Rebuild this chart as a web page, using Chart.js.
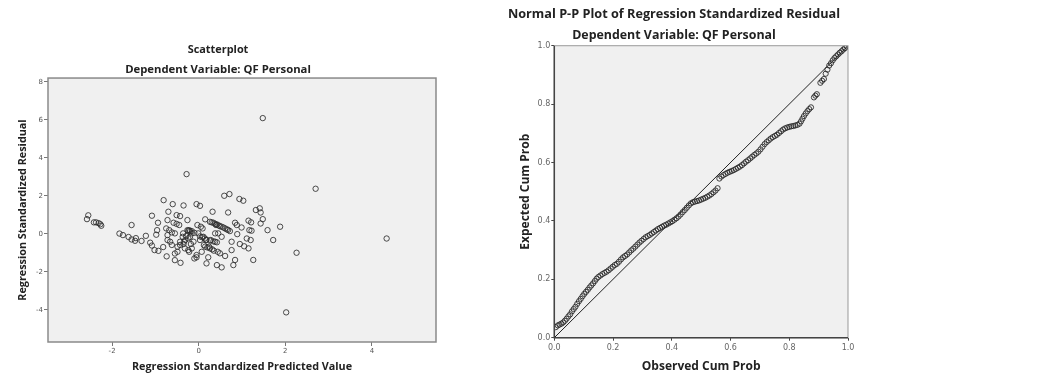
<!DOCTYPE html>
<html>
<head>
<meta charset="utf-8">
<script src="https://cdn.jsdelivr.net/npm/chart.js@4.4.1/dist/chart.umd.min.js"></script>
<style>
  body { margin: 0; background: #fff; width: 1042px; height: 375px; position: relative; overflow: hidden; }
  #leftBox { position: absolute; left: 0; top: 0; }
  #rightBox { position: absolute; left: 500px; top: 0; }
</style>
</head>
<body>
<div id="leftBox"><canvas id="scatterChart" width="448" height="375"></canvas></div>
<div id="rightBox"><canvas id="ppChart" width="360" height="375"></canvas></div>
<script>
// scatterplot: standardized predicted value (x) vs standardized residual (y)
const predicted = [
  1.48, -0.28, 2.70, 4.34, 2.26, 2.02,
  -2.55, -2.58, -2.42, -2.37, -2.31, -2.27, -2.25,
  -1.83, -1.75, -1.62, -1.55, -1.47, -1.45, -1.55, -1.32, -1.22, -1.12, -1.08, -1.08,
  -1.02, -0.93, -0.98, -0.96, -0.94, -0.82, -0.81, -0.74, -0.72, -0.72, -0.70, -0.68,
  -0.60, -0.58, -0.75, -0.62, -0.55, -0.72, -0.66, -0.55, -0.55, -0.51, -0.51, -0.43,
  -0.45, -0.49, -0.43, -0.43, -0.62, -0.42, -0.49, -0.37, -0.35, -0.36, -0.35, -0.32,
  -0.31, -0.34, -0.29, -0.26, -0.26, -0.24, -0.22, -0.24, -0.24, -0.22, -0.20, -0.18,
  -0.16, -0.16, -0.16, -0.12, -0.10, -0.05, -0.05, -0.05, -0.03, -0.01, 0.03, 0.03,
  0.03, 0.05, 0.07, 0.09, 0.11, 0.12, 0.15, 0.15, 0.17, 0.18, 0.18, 0.22, 0.24, 0.26,
  0.26, 0.28, 0.32, 0.34, 0.34, 0.35, 0.38, 0.40, 0.42, 0.42, 0.42, 0.45, 0.49, 0.49,
  0.53, 0.53, 0.57, 0.59, 0.61, 0.65, 0.68, 0.71, 0.72, 0.76, 0.76, 0.80, 0.84, 0.84,
  0.88, 0.89, 0.94, 0.95, 0.99, 1.03, 1.05, 1.11, 1.15, 1.15, 1.21, 1.17, 1.22, 1.20,
  1.26, 1.32, 1.41, 1.43, 1.43, 1.48, 1.59, 1.72, 1.88,
  0.30, 0.38, 0.46, 0.53, 0.61, 0.68,
  -0.20, -0.10, 0.08, 0.14, 0.26, 0.38,
  0.20, 0.31, 0.44
];
const residual = [
  6.09, 3.14, 2.37, -0.25, -1.00, -4.14,
  0.97, 0.77, 0.60, 0.60, 0.56, 0.50, 0.42,
  0.01, -0.07, -0.17, -0.30, -0.37, -0.23, 0.46, -0.38, -0.11, -0.47, -0.62, 0.95,
  -0.86, -0.90, -0.05, 0.19, 0.58, -0.70, 1.77, -1.19, 0.72, -0.33, 1.16, 0.19,
  1.56, 0.58, 0.28, 0.07, 0.02, -0.07, -0.42, -1.39, -1.04, 0.52, 0.98, 0.93,
  0.46, -0.68, -0.42, -0.59, -0.59, -1.53, -0.95, -0.16, 1.49, 0.02, -0.54, -0.77,
  -0.33, -0.42, -0.12, 0.72, 0.19, 0.16, 0.19, -0.24, -0.86, -0.95, -0.16, -0.54,
  0.14, 0.02, -0.77, -0.42, -1.30, 1.56, -1.12, -1.24, 0.46, 0.02, 1.47, -0.33,
  -0.14, 0.37, -0.95, 0.28, -0.16, -0.60, 0.76, -0.68, -0.33, -0.31, -1.56, -1.24, -0.68, 0.63,
  -0.77, -0.33, 1.16, 0.58, -0.40, -0.89, 0.02, 0.46, 0.49, -0.45, -1.65, 0.02, 0.40, -1.03,
  -0.16, -1.77, 0.33, 2.00, -1.17, 0.23, 1.12, 2.09, 0.14, -0.86, -0.42, -1.65, -1.38, 0.58,
  0.46, -0.02, 1.83, -0.54, 0.33, 1.74, -0.66, -0.25, -0.77, 0.69, 0.60, 0.19, 0.16, -0.33,
  -1.38, 1.25, 1.34, 1.12, 0.54, 0.77, 0.19, -0.33, 0.37,
  0.60, 0.52, 0.44, 0.37, 0.28, 0.20,
  0.14, 0.05, -0.18, -0.25, -0.36, -0.42,
  -0.72, -0.82, -0.95
];
const scatterXTicks = [-2, 0, 2, 4];
const scatterYTicks = [-4, -2, 0, 2, 4, 6, 8];

// normal P-P plot: observed vs expected cumulative probability
const observedCum = [
  0.005, 0.012, 0.018, 0.024, 0.030, 0.036, 0.042, 0.048, 0.054, 0.060, 0.066, 0.072,
  0.078, 0.084, 0.090, 0.096, 0.102, 0.108, 0.114, 0.120, 0.126, 0.132, 0.138, 0.144,
  0.150, 0.157, 0.164, 0.171, 0.178, 0.185, 0.192, 0.199, 0.206, 0.213, 0.220, 0.227,
  0.234, 0.241, 0.248, 0.255, 0.262, 0.269, 0.276, 0.283, 0.290, 0.297, 0.304, 0.311,
  0.318, 0.325, 0.332, 0.339, 0.346, 0.353, 0.360, 0.367, 0.374, 0.381, 0.388, 0.395,
  0.402, 0.409, 0.416, 0.423, 0.430, 0.437, 0.444, 0.451, 0.458, 0.465, 0.472, 0.479,
  0.486, 0.493, 0.500, 0.507, 0.514, 0.521, 0.528, 0.535, 0.542, 0.549, 0.556, 0.562,
  0.569, 0.576, 0.583, 0.590, 0.597, 0.604, 0.611, 0.618, 0.625, 0.632, 0.639, 0.646,
  0.653, 0.660, 0.667, 0.674, 0.681, 0.688, 0.695, 0.702, 0.709, 0.716, 0.723, 0.730,
  0.737, 0.744, 0.751, 0.758, 0.765, 0.772, 0.779, 0.786, 0.793, 0.800, 0.807, 0.814,
  0.821, 0.828, 0.835, 0.840, 0.845, 0.850, 0.856, 0.862, 0.868, 0.874, 0.884, 0.889,
  0.894, 0.906, 0.912, 0.918, 0.924, 0.930, 0.936, 0.942, 0.948, 0.954, 0.960, 0.966,
  0.972, 0.978, 0.984, 0.990, 0.996
];
const expectedCum = [
  0.036, 0.042, 0.045, 0.048, 0.052, 0.058, 0.065, 0.073, 0.080, 0.090, 0.098, 0.106,
  0.116, 0.125, 0.133, 0.142, 0.150, 0.157, 0.164, 0.172, 0.179, 0.186, 0.194, 0.202,
  0.208, 0.213, 0.218, 0.222, 0.226, 0.231, 0.237, 0.243, 0.249, 0.253, 0.260, 0.268,
  0.275, 0.280, 0.285, 0.292, 0.299, 0.305, 0.312, 0.319, 0.326, 0.332, 0.338, 0.344,
  0.348, 0.352, 0.357, 0.362, 0.367, 0.372, 0.376, 0.380, 0.384, 0.387, 0.391, 0.395,
  0.399, 0.404, 0.409, 0.415, 0.422, 0.430, 0.437, 0.445, 0.453, 0.460, 0.464, 0.466,
  0.468, 0.470, 0.473, 0.476, 0.479, 0.483, 0.487, 0.492, 0.498, 0.504, 0.512, 0.545,
  0.552, 0.557, 0.561, 0.565, 0.568, 0.571, 0.574, 0.578, 0.582, 0.586, 0.591, 0.597,
  0.603, 0.608, 0.614, 0.620, 0.626, 0.631, 0.637, 0.645, 0.654, 0.663, 0.670, 0.676,
  0.682, 0.687, 0.691, 0.695, 0.701, 0.707, 0.713, 0.717, 0.720, 0.722, 0.724, 0.725,
  0.727, 0.729, 0.733, 0.741, 0.750, 0.759, 0.768, 0.776, 0.783, 0.789, 0.823, 0.829,
  0.834, 0.873, 0.880, 0.886, 0.904, 0.918, 0.932, 0.940, 0.950, 0.958, 0.964, 0.970,
  0.976, 0.981, 0.987, 0.992, 0.998
];
const diagonal = [0, 1];
const ppTicks = [0, 0.2, 0.4, 0.6, 0.8, 1.0];

const titleFont = "'Open Sans', 'DejaVu Sans', sans-serif";
const tickFont = "'DejaVu Sans', sans-serif";

// grey plot background + frame around the chart area
const plotFrame = {
  id: 'plotFrame',
  beforeDraw(chart, args, opts) {
    const { ctx, chartArea: a } = chart;
    ctx.save();
    ctx.fillStyle = opts.fill;
    ctx.fillRect(a.left, a.top, a.width, a.height);
    ctx.restore();
  },
  afterDraw(chart, args, opts) {
    const { ctx, chartArea: a } = chart;
    ctx.save();
    ctx.strokeStyle = opts.frame;
    ctx.lineWidth = opts.frameWidth;
    ctx.strokeRect(a.left, a.top, a.width, a.height);
    if (opts.axisColor) {
      ctx.strokeStyle = opts.axisColor;
      ctx.lineWidth = 1.5;
      ctx.beginPath();
      ctx.moveTo(a.left, a.top);
      ctx.lineTo(a.left, a.bottom);
      ctx.lineTo(a.right, a.bottom);
      ctx.stroke();
    }
    ctx.restore();
  }
};

new Chart(document.getElementById('scatterChart'), {
  type: 'scatter',
  data: {
    datasets: [{
      data: predicted.map((x, i) => ({ x: x, y: residual[i] })),
      pointRadius: 2.7,
      pointBorderWidth: 1,
      pointBorderColor: 'rgba(45, 45, 45, 0.85)',
      pointBackgroundColor: 'rgba(0, 0, 0, 0)'
    }]
  },
  options: {
    responsive: false,
    animation: false,
    layout: { padding: { top: 43.5, left: 0, right: 12, bottom: 0 } },
    plugins: {
      legend: { display: false },
      tooltip: { enabled: false },
      title: {
        display: true,
        text: 'Scatterplot',
        color: '#222',
        font: { family: titleFont, size: 10.9, weight: 'bold', lineHeight: 1.2 },
        padding: { top: 0, bottom: 6.7 }
      },
      subtitle: {
        display: true,
        text: 'Dependent Variable: QF Personal',
        color: '#222',
        font: { family: titleFont, size: 11.3, weight: 'bold', lineHeight: 1.2 },
        padding: { top: 0, bottom: 1.2 }
      },
      plotFrame: { fill: '#f0f0f0', frame: '#8a8a8a', frameWidth: 1.5 }
    },
    scales: {
      x: {
        type: 'linear',
        min: -3.48,
        max: 5.48,
        afterBuildTicks: s => { s.ticks = scatterXTicks.map(v => ({ value: v })); },
        afterFit: s => { s.height = 33; },
        grid: { drawOnChartArea: false, tickLength: 4, color: '#777' },
        border: { display: false },
        ticks: { font: { family: tickFont, size: 7 }, color: '#555', padding: 1, maxRotation: 0 },
        title: {
          display: true,
          text: 'Regression Standardized Predicted Value',
          color: '#222',
          font: { family: titleFont, size: 10.8, weight: 'bold', lineHeight: 1.2 },
          padding: 1.5
        }
      },
      y: {
        type: 'linear',
        min: -5.7,
        max: 8.2,
        afterBuildTicks: s => { s.ticks = scatterYTicks.map(v => ({ value: v })); },
        afterFit: s => { s.width = 48; },
        grid: { drawOnChartArea: false, tickLength: 4, color: '#777' },
        border: { display: false },
        ticks: { font: { family: tickFont, size: 7 }, color: '#555', padding: 1 },
        title: {
          display: true,
          text: 'Regression Standardized Residual',
          color: '#222',
          font: { family: titleFont, size: 10.8, weight: 'bold', lineHeight: 1.2 },
          padding: 16.5
        }
      }
    }
  },
  plugins: [plotFrame]
});

new Chart(document.getElementById('ppChart'), {
  type: 'scatter',
  data: {
    datasets: [{
      data: observedCum.map((x, i) => ({ x: x, y: expectedCum[i] })),
      pointRadius: 2.6,
      pointBorderWidth: 1,
      pointBorderColor: 'rgba(35, 35, 35, 0.85)',
      pointBackgroundColor: 'rgba(0, 0, 0, 0)'
    }, {
      data: diagonal.map(v => ({ x: v, y: v })),
      showLine: true,
      borderColor: '#222',
      borderWidth: 1,
      pointRadius: 0
    }]
  },
  options: {
    responsive: false,
    animation: false,
    layout: { padding: { top: 6.4, left: 0, right: 12, bottom: 0 } },
    plugins: {
      legend: { display: false },
      tooltip: { enabled: false },
      title: {
        display: true,
        text: 'Normal P-P Plot of Regression Standardized Residual',
        color: '#222',
        font: { family: titleFont, size: 12.7, weight: 'bold', lineHeight: 1.2 },
        padding: { top: 0, bottom: 5.9 }
      },
      subtitle: {
        display: true,
        text: 'Dependent Variable: QF Personal',
        color: '#222',
        font: { family: titleFont, size: 12.4, weight: 'bold', lineHeight: 1.2 },
        padding: { top: 0, bottom: 3.3 }
      },
      plotFrame: { fill: '#f0f0f0', frame: '#999', frameWidth: 1, axisColor: '#444' }
    },
    scales: {
      x: {
        type: 'linear',
        min: 0,
        max: 1,
        afterBuildTicks: s => { s.ticks = ppTicks.map(v => ({ value: v })); },
        afterFit: s => { s.height = 37.3; },
        grid: { drawOnChartArea: false, tickLength: 3, color: '#444' },
        border: { display: false },
        ticks: { font: { family: tickFont, size: 8 }, color: '#666', padding: 2, maxRotation: 0,
          callback: v => v.toFixed(1) },
        title: {
          display: true,
          text: 'Observed Cum Prob',
          color: '#222',
          font: { family: titleFont, size: 12, weight: 'bold', lineHeight: 1.2 },
          padding: 1
        }
      },
      y: {
        type: 'linear',
        min: 0,
        max: 1,
        afterBuildTicks: s => { s.ticks = ppTicks.map(v => ({ value: v })); },
        afterFit: s => { s.width = 54.3; },
        grid: { drawOnChartArea: false, tickLength: 3, color: '#444' },
        border: { display: false },
        ticks: { font: { family: tickFont, size: 8 }, color: '#666', padding: 1,
          callback: v => v.toFixed(1) },
        title: {
          display: true,
          text: 'Expected Cum Prob',
          color: '#222',
          font: { family: titleFont, size: 12, weight: 'bold', lineHeight: 1.2 },
          padding: 18
        }
      }
    }
  },
  plugins: [plotFrame]
});
</script>
</body>
</html>
